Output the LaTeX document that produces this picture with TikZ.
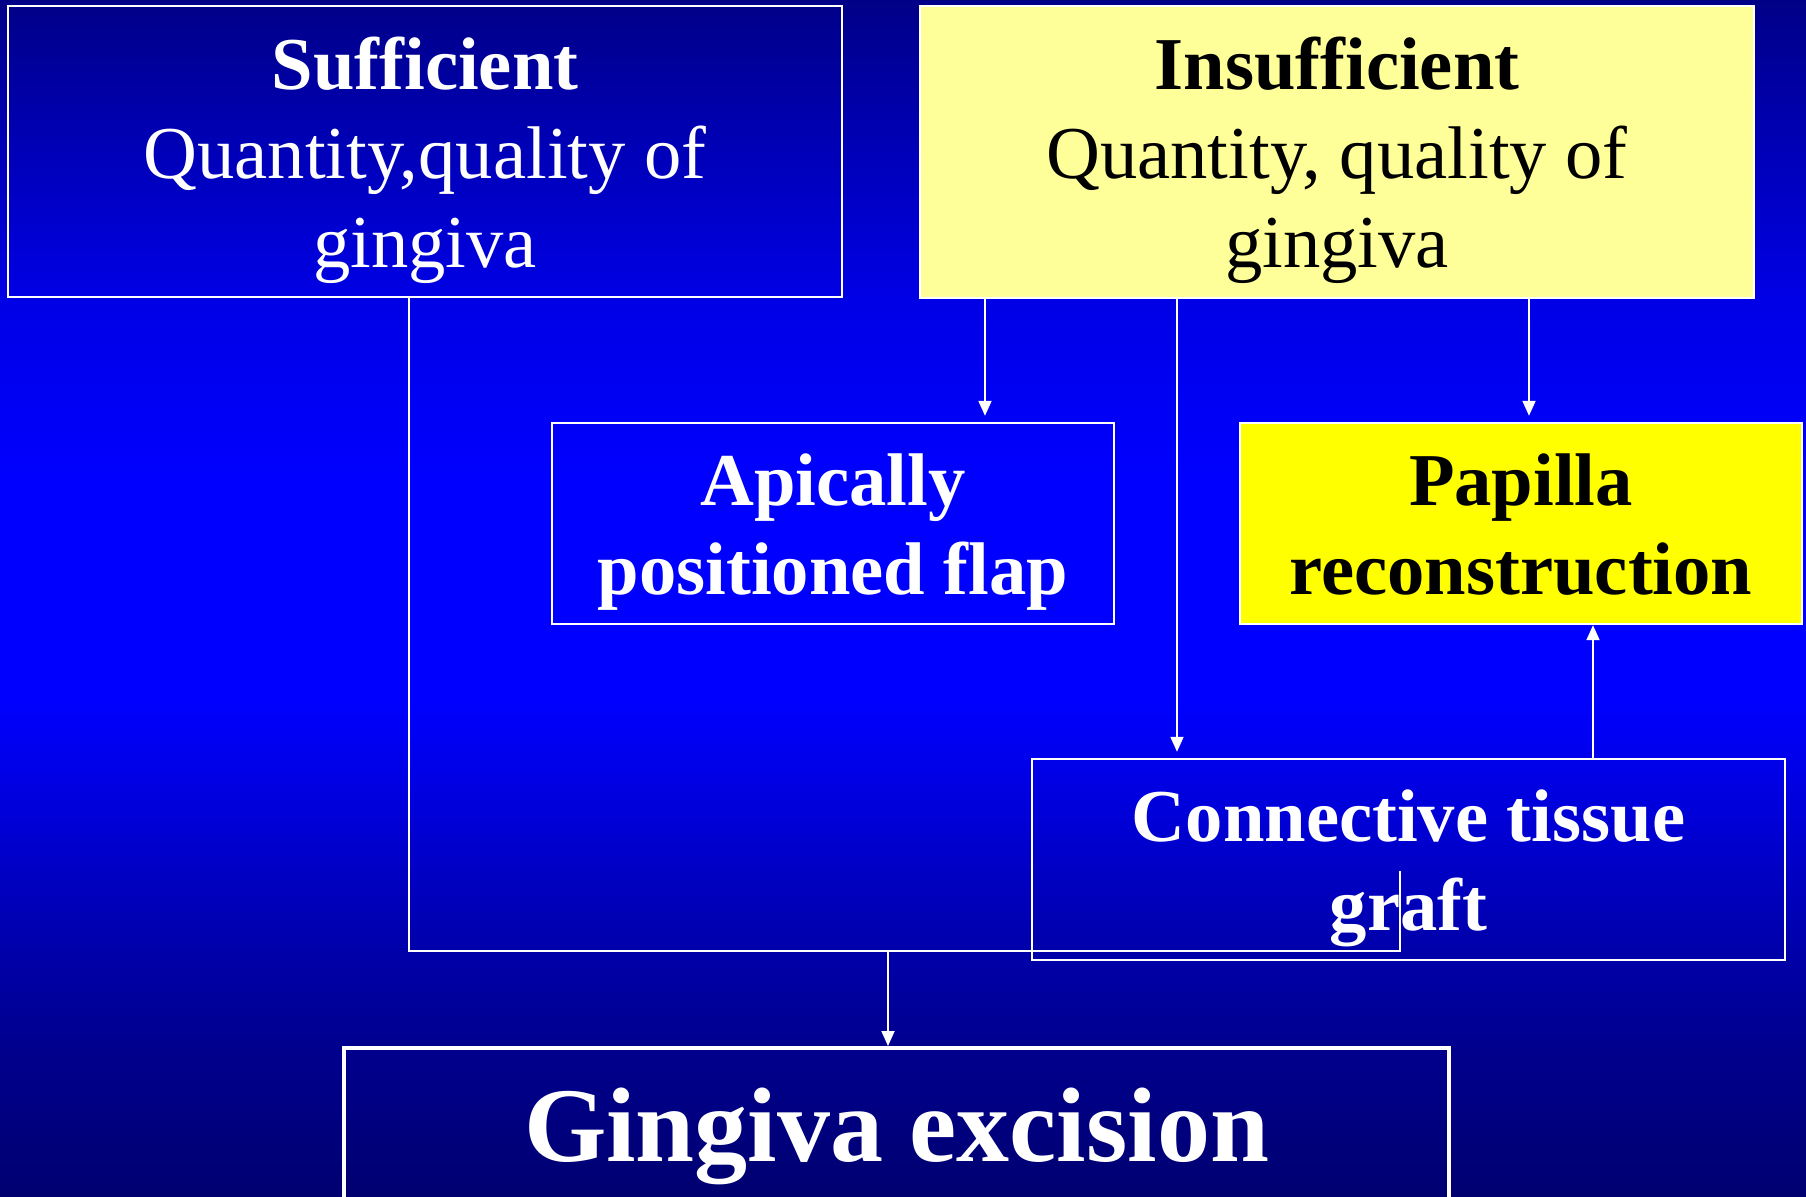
\documentclass[tikz,border=0pt]{standalone}
\usepackage{fontspec}
\setmainfont{Liberation Serif}
\usetikzlibrary{arrows.meta}

\definecolor{paleyel}{RGB}{255,255,153}
\definecolor{brightyel}{RGB}{255,255,0}

% background: dark navy at the edges, pure blue a little above the middle
\pgfdeclareverticalshading{bgshade}{100bp}{%
  rgb(0bp)=(0,0,0.44); rgb(25bp)=(0,0,0.44); rgb(31.4bp)=(0,0,0.56);
  rgb(36.1bp)=(0,0,0.69); rgb(45.7bp)=(0,0,1); rgb(54.9bp)=(0,0,1);
  rgb(62.5bp)=(0,0,0.9); rgb(68.7bp)=(0,0,0.72); rgb(75bp)=(0,0,0.53);
  rgb(100bp)=(0,0,0.53)}

% fixed line height so every box places its lines the same way
\newcommand\lnstrut{\rule[-9pt]{0pt}{44.5pt}}

\tikzset{
  box/.style={draw=white, line width=1.2pt, inner sep=0pt, align=center,
    text=white, font=\fontsize{37.3}{44.5}\selectfont},
  darktext/.style={text=black},
  conn/.style={draw=white, line width=0.9pt},
  arr/.style={-{Triangle[length=7.5pt,width=6.5pt]}},
  gap/.style={shorten >=3pt},
}

\begin{document}
\begin{tikzpicture}[x=0.5pt,y=-0.5pt]
  \useasboundingbox (0,0) rectangle (1806,1196);
  \clip (0,0) rectangle (1806,1196);
  \shade[shading=bgshade] (0pt,0pt) rectangle (903pt,-598pt);

  % decision boxes
  \node[box, minimum width=417pt, minimum height=145.5pt] (suf) at (425,151.5)
    {\lnstrut\textbf{Sufficient}\\\lnstrut Quantity,quality of\\\lnstrut gingiva};
  \node[box, darktext, fill=paleyel, minimum width=417pt, minimum height=146pt] (ins) at (1337,152)
    {\lnstrut\textbf{Insufficient}\\\lnstrut Quantity, quality of\\\lnstrut gingiva};

  % treatment boxes
  \node[box, minimum width=281pt, minimum height=100.5pt] (apf) at (833,523.5)
    {\lnstrut\textbf{Apically}\\\lnstrut\textbf{positioned flap}};
  \node[box, darktext, fill=brightyel, minimum width=281pt, minimum height=100.5pt] (pap) at (1521,523.5)
    {\lnstrut\textbf{Papilla}\\\lnstrut\textbf{reconstruction}};
  \node[box, minimum width=376.5pt, minimum height=100.5pt] (ctg) at (1408.5,859.5)
    {\lnstrut\textbf{Connective tissue}\\\lnstrut\textbf{graft}};

  % final box, running past the lower edge
  \node[box, line width=1.8pt, minimum width=552.5pt, minimum height=130pt, anchor=north] (gex) at (896.5,1046) {};
  \node[anchor=base, text=white, inner sep=0pt, font=\fontsize{53}{60}\selectfont\bfseries]
    (gexlabel) at (896.5,1161) {Gingiva excision};

  % routing points
  \coordinate (sL) at (409,951);
  \coordinate (sR) at (1400,951);
  \coordinate (sT) at (1400,871);
  \coordinate (sM) at (888,951);
  \coordinate (x1) at (985,0);
  \coordinate (x2) at (1177,0);
  \coordinate (x3) at (1529,0);
  \coordinate (x4) at (1593,0);

  % connectors
  \draw[conn] (suf.south -| sL) -- (sL) -- (sR) -- (sT);
  \draw[conn, arr] (sM) -- (sM |- gex.north);
  \draw[conn, arr, gap] (ins.south -| x1) -- (apf.north -| x1);
  \draw[conn, arr, gap] (ins.south -| x2) -- (ctg.north -| x2);
  \draw[conn, arr, gap] (ins.south -| x3) -- (pap.north -| x3);
  \draw[conn, arr] (ctg.north -| x4) -- (pap.south -| x4);
\end{tikzpicture}
\end{document}
